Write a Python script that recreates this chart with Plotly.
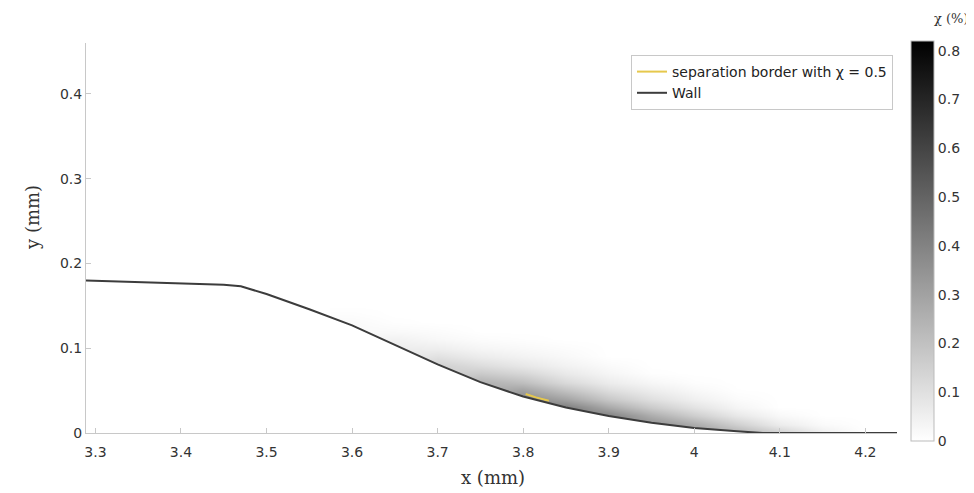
import plotly.graph_objects as go

# Wall profile
wall_x = [3.289, 3.35, 3.40, 3.45, 3.47, 3.50, 3.55, 3.60, 3.65, 3.70, 3.75, 3.80,
          3.85, 3.90, 3.95, 4.00, 4.05, 4.08, 4.10, 4.237]
wall_y = [0.180, 0.178, 0.176, 0.175, 0.173, 0.164, 0.146, 0.127, 0.104, 0.081, 0.060, 0.043,
          0.030, 0.020, 0.012, 0.006, 0.002, 0.0, 0.0, 0.0]

# Separation border (chi = 0.5)
sep_x = [3.803, 3.815, 3.830]
sep_y = [0.046, 0.042, 0.038]

# chi field on a grid (columns = x stations, rows = y levels)
chi_x = [3.60, 3.65, 3.70, 3.75, 3.80, 3.85, 3.90, 3.95, 4.00, 4.05, 4.10, 4.15, 4.20]
chi_y = [0.00, 0.01, 0.02, 0.03, 0.04, 0.05, 0.06, 0.07, 0.08, 0.09, 0.10, 0.11, 0.12, 0.13, 0.14, 0.15]
chi_z = [
    # 3.60   3.65   3.70   3.75  3.80   3.85  3.90   3.95   4.00   4.05   4.10  4.15   4.20
    [0.02, 0.06, 0.15, 0.25, 0.38, 0.42, 0.40, 0.36, 0.32, 0.25, 0.15, 0.05, 0.0],    # 0.00
    [0.02, 0.06, 0.15, 0.25, 0.38, 0.42, 0.40, 0.36, 0.268, 0.154, 0.06, 0.015, 0.0], # 0.01
    [0.02, 0.06, 0.15, 0.25, 0.38, 0.42, 0.40, 0.264, 0.158, 0.074, 0.02, 0.0, 0.0],  # 0.02
    [0.02, 0.06, 0.15, 0.25, 0.38, 0.42, 0.28, 0.168, 0.09, 0.032, 0.0, 0.0, 0.0],    # 0.03
    [0.02, 0.06, 0.15, 0.25, 0.38, 0.30, 0.18, 0.102, 0.048, 0.013, 0.0, 0.0, 0.0],   # 0.04
    [0.02, 0.06, 0.15, 0.25, 0.303, 0.20, 0.11, 0.058, 0.022, 0.002, 0.0, 0.0, 0.0],  # 0.05
    [0.02, 0.06, 0.15, 0.25, 0.207, 0.12, 0.06, 0.026, 0.006, 0.0, 0.0, 0.0, 0.0],    # 0.06
    [0.02, 0.06, 0.15, 0.17, 0.131, 0.07, 0.03, 0.004, 0.0, 0.0, 0.0, 0.0, 0.0],      # 0.07
    [0.02, 0.06, 0.15, 0.11, 0.075, 0.04, 0.015, 0.0, 0.0, 0.0, 0.0, 0.0, 0.0],       # 0.08
    [0.02, 0.06, 0.096, 0.06, 0.039, 0.02, 0.0, 0.0, 0.0, 0.0, 0.0, 0.0, 0.0],        # 0.09
    [0.02, 0.06, 0.054, 0.03, 0.02, 0.01, 0.0, 0.0, 0.0, 0.0, 0.0, 0.0, 0.0],         # 0.10
    [0.02, 0.042, 0.023, 0.01, 0.005, 0.0, 0.0, 0.0, 0.0, 0.0, 0.0, 0.0, 0.0],        # 0.11
    [0.02, 0.018, 0.011, 0.0, 0.0, 0.0, 0.0, 0.0, 0.0, 0.0, 0.0, 0.0, 0.0],           # 0.12
    [0.017, 0.004, 0.0, 0.0, 0.0, 0.0, 0.0, 0.0, 0.0, 0.0, 0.0, 0.0, 0.0],            # 0.13
    [0.007, 0.0, 0.0, 0.0, 0.0, 0.0, 0.0, 0.0, 0.0, 0.0, 0.0, 0.0, 0.0],              # 0.14
    [0.0, 0.0, 0.0, 0.0, 0.0, 0.0, 0.0, 0.0, 0.0, 0.0, 0.0, 0.0, 0.0],                # 0.15
]

x_ticks = [3.3, 3.4, 3.5, 3.6, 3.7, 3.8, 3.9, 4.0, 4.1, 4.2]
x_tick_labels = ["3.3", "3.4", "3.5", "3.6", "3.7", "3.8", "3.9", "4", "4.1", "4.2"]
y_ticks = [0, 0.1, 0.2, 0.3, 0.4]
y_tick_labels = ["0", "0.1", "0.2", "0.3", "0.4"]
cb_ticks = [0, 0.1, 0.2, 0.3, 0.4, 0.5, 0.6, 0.7, 0.8]
cb_tick_labels = ["0", "0.1", "0.2", "0.3", "0.4", "0.5", "0.6", "0.7", "0.8"]

# page body has an 8px margin; figure laid out accordingly
OFF = 8
W, H = 966, 485
L, T = 86 - OFF, 43 - OFF
R = W - (897 - OFF)
B = H - (433 - OFF)
pw = W - L - R
ph = H - T - B


def px_to_paper(px, py):
    return ((px - OFF) - L) / pw, (H - B - (py - OFF)) / ph


cbx, _ = px_to_paper(911, 0)
_, cby = px_to_paper(0, 241)
lgx, lgy = px_to_paper(893, 55)
ylx, yly = px_to_paper(33, 218)
xlx, xly = px_to_paper(493, 477)
ctx, cty = px_to_paper(971, 18)

fig = go.Figure()

fig.add_trace(go.Heatmap(
    x=chi_x, y=chi_y, z=chi_z, zsmooth="best",
    zmin=0, zmax=0.82,
    colorscale=[[0, "#ffffff"], [1, "#000000"]],
    showscale=True, hoverinfo="skip",
    colorbar=dict(
        x=cbx, xanchor="left",
        y=cby, yanchor="middle",
        lenmode="pixels", len=400, thickness=23, ypad=0,
        outlinecolor="#bbbbbb", outlinewidth=1,
        tickvals=cb_ticks, ticktext=cb_tick_labels,
        ticks="", xpad=0,
        tickfont=dict(family="DejaVu Sans", size=14, color="#333333"),
    ),
))

# mask the region below the wall
fig.add_trace(go.Scatter(
    x=wall_x, y=wall_y, mode="none", fill="tozeroy", fillcolor="#ffffff",
    showlegend=False, hoverinfo="skip",
))

fig.add_trace(go.Scatter(
    x=sep_x, y=sep_y, mode="lines", name="separation border with χ = 0.5",
    line=dict(color="#e6c84c", width=2),
))

fig.add_trace(go.Scatter(
    x=wall_x, y=wall_y, mode="lines", name="Wall",
    line=dict(color="#3c3c3c", width=2),
))

axis_font = dict(family="DejaVu Sans", size=14, color="#333333")
serif = dict(family="DejaVu Serif", size=18, color="#333333")
fig.update_layout(
    width=W, height=H,
    margin=dict(l=L, r=R, t=T, b=B, autoexpand=False),
    paper_bgcolor="white", plot_bgcolor="white",
    xaxis=dict(
        range=[3.289, 4.237], tickvals=x_ticks, ticktext=x_tick_labels,
        showgrid=False, zeroline=False, showline=True, linecolor="#c8c8c8", linewidth=1,
        ticks="inside", ticklen=5, tickcolor="#c8c8c8", tickfont=axis_font,
        ticklabelstandoff=6, automargin=False,
    ),
    yaxis=dict(
        range=[0, 0.46], tickvals=y_ticks, ticktext=y_tick_labels,
        showgrid=False, zeroline=False, showline=True, linecolor="#c8c8c8", linewidth=1,
        ticks="inside", ticklen=5, tickcolor="#c8c8c8", tickfont=axis_font,
        automargin=False,
    ),
    legend=dict(
        x=lgx, xanchor="right",
        y=lgy, yanchor="top",
        bgcolor="white", bordercolor="#c8c8c8", borderwidth=1,
        font=dict(family="DejaVu Sans", size=14, color="#222222"),
        tracegroupgap=0,
    ),
    annotations=[
        dict(text="x (mm)", x=xlx, y=xly, xref="paper", yref="paper",
             xanchor="center", yanchor="middle", showarrow=False, font=serif),
        dict(text="y (mm)", textangle=-90, x=ylx, y=yly, xref="paper", yref="paper",
             xanchor="center", yanchor="middle", showarrow=False, font=serif),
        dict(text="χ (%)", x=ctx, y=cty, xref="paper", yref="paper",
             xanchor="right", yanchor="middle", showarrow=False,
             font=dict(family="DejaVu Serif", size=13, color="#333333")),
    ],
)

fig.write_html("out.html")
